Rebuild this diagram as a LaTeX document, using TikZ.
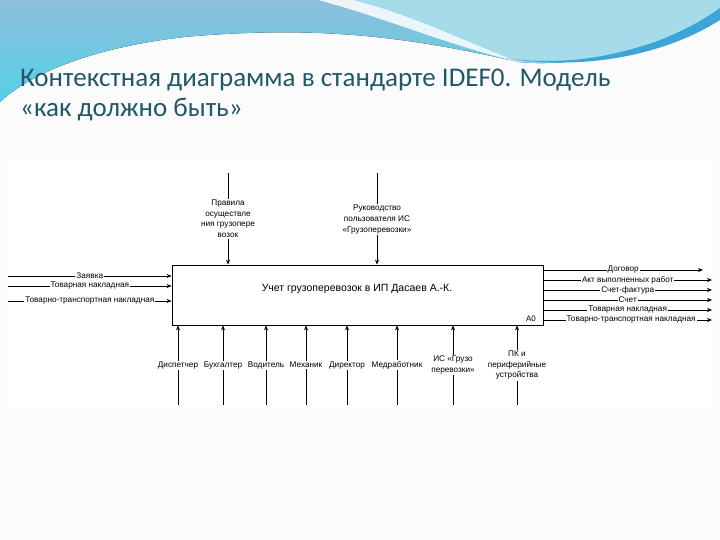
\documentclass[tikz,border=0pt]{standalone}
\usepackage{fontspec}
\setmainfont{Liberation Sans}
\newfontfamily\titlefont{Carlito}
\usepackage{tikz}
\usetikzlibrary{arrows.meta, positioning, calc}
\definecolor{slidebg}{HTML}{FBFBFB}
\definecolor{titleteal}{HTML}{215868}
\definecolor{wavetop}{HTML}{8CBFDA}
\definecolor{wavelow}{HTML}{55D0E8}
\definecolor{waveright}{HTML}{A6DBEA}
\definecolor{swoosh}{HTML}{3BA6D6}

\begin{document}
\begin{tikzpicture}[x=1pt, y=-1pt,
  func/.style={draw, line width=0.8pt, minimum width=371pt, minimum height=60pt, inner sep=0pt},
  flow/.style={draw, line width=0.6pt, -{Stealth[length=5pt, width=4pt]}},
  lbl/.style={fill=white, inner sep=1pt, align=center, font=\fontsize{8.2}{10.8}\selectfont},
  title/.style={anchor=base west, inner sep=0pt, text=titleteal, font=\titlefont\fontsize{27}{30}\selectfont},
]
  % slide background and wave
  \useasboundingbox[fill=slidebg] (0,0) rectangle (720,540);
  \fill[white] (8,160) rectangle (712,408);
  \fill[top color=wavetop, bottom color=wavelow] (0,0) -- (720,0) -- (720,18)
    .. controls (650,48) and (580,68) .. (519,62)
    .. controls (420,40) and (330,24) .. (184,37)
    .. controls (90,48) and (30,74) .. (0,102) -- cycle;
  \fill[waveright] (350,0) -- (720,0) -- (720,18) .. controls (650,48) and (580,66) .. (519,62)
    .. controls (460,40) and (400,12) .. (350,0) -- cycle;
  \fill[white, opacity=0.85] (318,0) -- (352,0) .. controls (410,14) and (470,44) .. (519,62)
    .. controls (450,46) and (380,16) .. (318,0) -- cycle;
  \fill[swoosh] (505,58) .. controls (590,70) and (670,44) .. (720,8) -- (720,20)
    .. controls (670,52) and (590,72) .. (505,58) -- cycle;

  \node[title] (title1) at (20,87) {Контекстная диаграмма в стандарте IDEF0. Модель};
  \node[title] (title2) at (20,117) {«как должно быть»};

  % A0 function
  \node[func] (a0) at (357.5,295) {};
  \node[font=\fontsize{10.5}{12}\selectfont] (a0txt) at (357,289) {Учет грузоперевозок в ИП Дасаев А.-К.};
  \node[font=\fontsize{8}{9}\selectfont, inner sep=0pt] (a0num) at (531,319) {A0};

  % inputs
  \coordinate (zayavka) at (8,276);
  \coordinate (tn) at (8,286);
  \coordinate (ttn) at (8,301);
  \draw[flow] (zayavka) -- (zayavka -| a0.west) node[lbl, pos=0.5] {Заявка};
  \draw[flow] (tn) -- (tn -| a0.west) node[lbl, pos=0.5] {Товарная накладная};
  \draw[flow] (ttn) -- (ttn -| a0.west) node[lbl, pos=0.5] {Товарно-транспортная накладная};

  % controls
  \coordinate (pravila) at (228,173);
  \coordinate (rukov) at (377,173);
  \draw[flow] (pravila) -- (pravila |- a0.north) node[lbl, pos=0.5] {Правила\\осуществле\\ния грузопере\\возок};
  \draw[flow] (rukov) -- (rukov |- a0.north) node[lbl, pos=0.51] {Руководство\\пользователя ИС\\«Грузоперевозки»};

  % outputs
  \coordinate (dogovor) at (703,270);
  \coordinate (akt) at (712,280);
  \coordinate (sf) at (712,290);
  \coordinate (schet) at (712,300);
  \coordinate (tnout) at (712,310);
  \coordinate (ttnout) at (712,320);
  \draw[flow] (dogovor -| a0.east) -- (dogovor) node[lbl, pos=0.5] {Договор};
  \draw[flow] (akt -| a0.east) -- (akt) node[lbl, pos=0.5] {Акт выполненных работ};
  \draw[flow] (sf -| a0.east) -- (sf) node[lbl, pos=0.5] {Счет-фактура};
  \draw[flow] (schet -| a0.east) -- (schet) node[lbl, pos=0.5] {Счет};
  \draw[flow] (tnout -| a0.east) -- (tnout) node[lbl, pos=0.5] {Товарная накладная};
  \draw[flow] (ttnout -| a0.east) -- (ttnout) node[lbl, pos=0.52] {Товарно-транспортная накладная};

  % mechanisms
  \coordinate (disp) at (178,405);
  \coordinate (buh) at (223,405);
  \coordinate (vod) at (266,405);
  \coordinate (meh) at (306,405);
  \coordinate (dir) at (347,405);
  \coordinate (med) at (397,405);
  \coordinate (is) at (453,405);
  \coordinate (pk) at (517,405);
  \draw[flow] (disp) -- (disp |- a0.south) node[lbl, pos=0.5] {Диспетчер};
  \draw[flow] (buh) -- (buh |- a0.south) node[lbl, pos=0.5] {Бухгалтер};
  \draw[flow] (vod) -- (vod |- a0.south) node[lbl, pos=0.5] {Водитель};
  \draw[flow] (meh) -- (meh |- a0.south) node[lbl, pos=0.5] {Механик};
  \draw[flow] (dir) -- (dir |- a0.south) node[lbl, pos=0.5] {Директор};
  \draw[flow] (med) -- (med |- a0.south) node[lbl, pos=0.5] {Медработник};
  \draw[flow] (is) -- (is |- a0.south) node[lbl, pos=0.5] {ИС «Грузо\\перевозки»};
  \draw[flow] (pk) -- (pk |- a0.south) node[lbl, pos=0.5] {ПК и\\периферийные\\устройства};
\end{tikzpicture}
\end{document}
